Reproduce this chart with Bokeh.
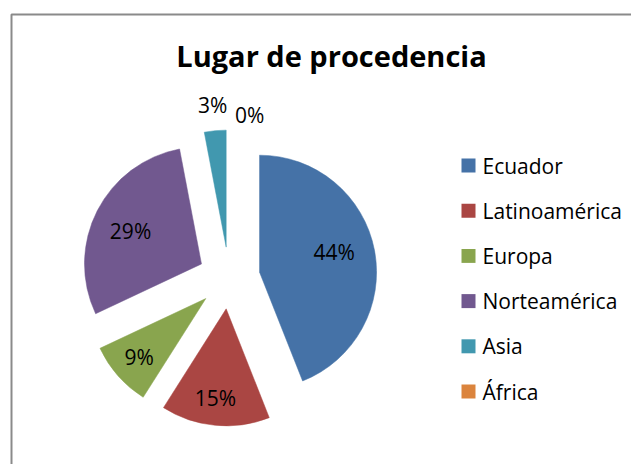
import numpy as np
from bokeh.plotting import figure
from bokeh.models import Range1d, ColumnDataSource
from bokeh.core.properties import value
from bokeh.embed import file_html
from bokeh.resources import INLINE

# ---- data ----
categories = ["Ecuador", "Latinoamérica", "Europa", "Norteamérica", "Asia", "África"]
percentages = [44, 15, 9, 29, 3, 0]
pct_labels = ["44%", "15%", "9%", "29%", "3%", "0%"]
title_text = "Lugar de procedencia"

# ---- style ----
colors = ["#4572A7", "#AA4643", "#89A54E", "#71588F", "#4198AF", "#DB843D"]
FONT = "Open Sans"
W, H = 631, 464
PAGE_H = 472
cx, cy = 228.6, PAGE_H - 277.5
R = 117
explode = 31
label_dist = [0.66, 0.77, 0.76, 0.67, 1.216, 1.138]
label_nudge = [-4.3, 1.4, 0.0, -1.8, 0.0, 8.9]

vals = np.array(percentages, dtype=float)
frac = vals / vals.sum()
cum = np.concatenate([[0.0], np.cumsum(frac)])
start_cw = cum[:-1] * 360.0
end_cw = cum[1:] * 360.0
mid_cw = (start_cw + end_cw) / 2.0

mid = np.radians(90.0 - mid_cw)
ax = cx + explode * np.cos(mid)
ay = cy + explode * np.sin(mid)
start = np.radians(90.0 - end_cw)
end = np.radians(90.0 - start_cw)

lab_ang = np.radians(90.0 - (mid_cw + np.array(label_nudge)))
lx = ax + np.array(label_dist) * R * np.cos(lab_ang)
ly = ay + np.array(label_dist) * R * np.sin(lab_ang)

p = figure(width=W, height=H, output_backend="svg", toolbar_location=None,
           x_range=Range1d(0, W), y_range=Range1d(PAGE_H - H, PAGE_H),
           min_border=0, outline_line_color=None)
p.axis.visible = False
p.grid.visible = False
p.background_fill_color = "white"
p.border_fill_color = "white"

# chart border (Excel chart area)
p.quad(left=[11], right=[700], top=[PAGE_H - 14], bottom=[-50],
       fill_alpha=0, line_color="#8a8a8a", line_width=2)

mask = vals > 0
wsrc = ColumnDataSource(dict(x=ax[mask], y=ay[mask], s=start[mask], e=end[mask],
                             c=[c for c, m in zip(colors, mask) if m]))
p.wedge(x="x", y="y", radius=R, start_angle="s", end_angle="e",
        fill_color="c", line_color="c", line_width=0.5, source=wsrc)

lsrc = ColumnDataSource(dict(x=lx, y=ly, t=pct_labels))
p.text(x="x", y="y", text="t", source=lsrc, text_align="center",
       text_baseline="middle", text_font=value(FONT), text_font_size="21px",
       text_color="black")

# title
p.text(x=[331], y=[PAGE_H - 55], text=[title_text], text_align="center",
       text_baseline="middle", text_font=value(FONT), text_font_size="29px",
       text_font_style="bold", text_color="black")

# legend
leg_y = [PAGE_H - (165 + i * 45.2) for i in range(len(categories))]
p.rect(x=[468] * len(categories), y=leg_y, width=14, height=14,
       fill_color=colors, line_color=None)
p.text(x=[482] * len(categories), y=leg_y, text=categories, text_align="left",
       text_baseline="middle", text_font=value(FONT), text_font_size="21px",
       text_color="black")

open("out.html", "w").write(file_html(p, INLINE))
